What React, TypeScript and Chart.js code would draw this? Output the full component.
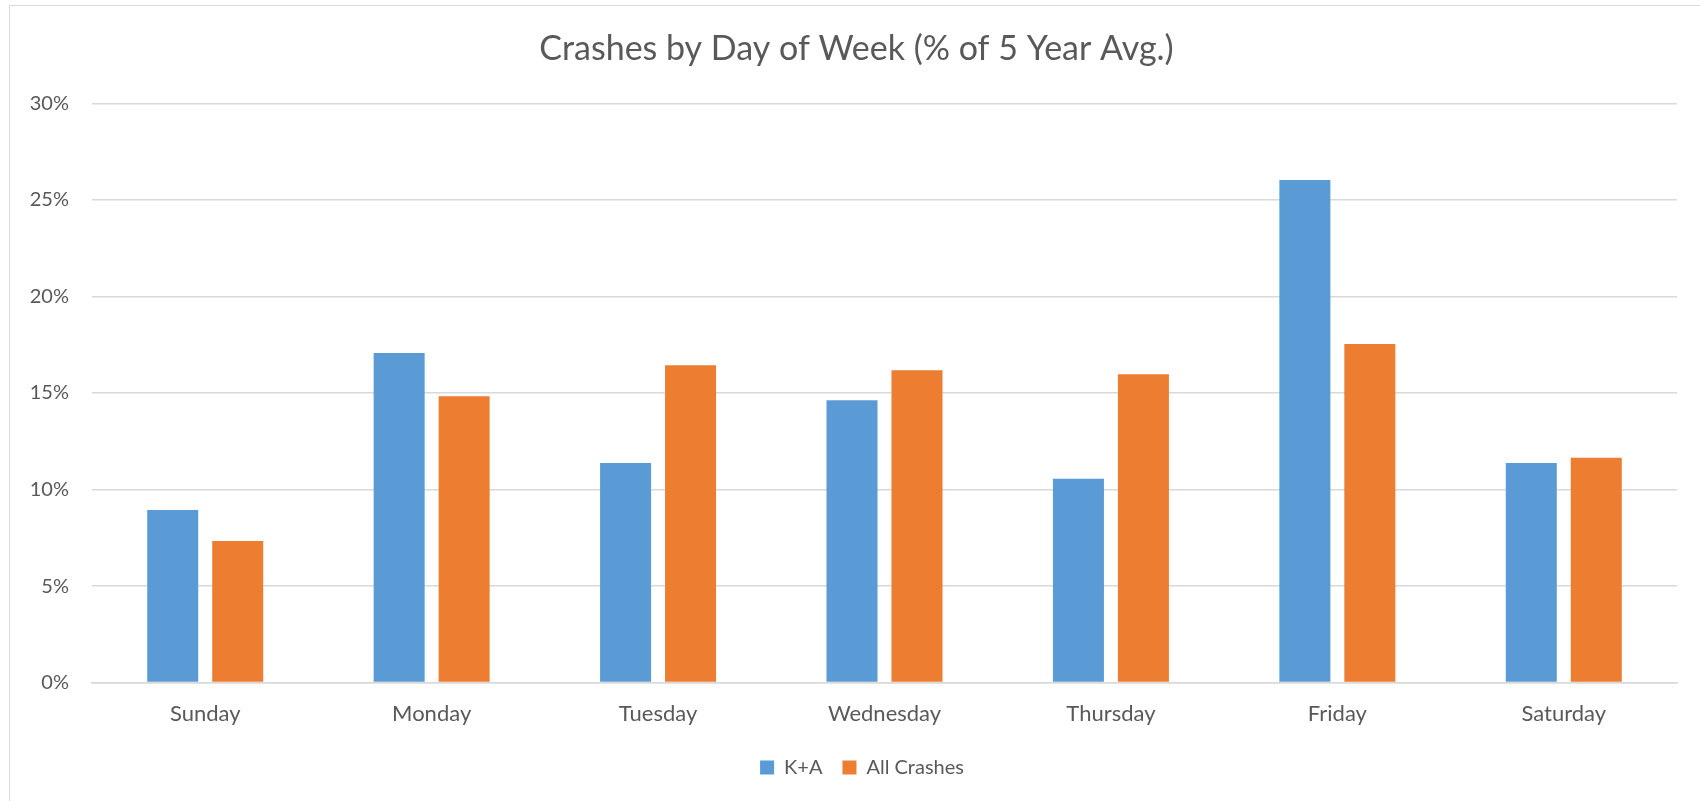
import React, { useEffect, useRef } from "react";
import { Chart, registerables } from "chart.js";

Chart.register(...registerables);

const categories = ["Sunday", "Monday", "Tuesday", "Wednesday", "Thursday", "Friday", "Saturday"];
const kaValues = [8.94, 17.07, 11.37, 14.62, 10.56, 26.03, 11.37];
const allCrashesValues = [7.33, 14.83, 16.44, 16.18, 15.97, 17.54, 11.65];
const seriesNames = ["K+A", "All Crashes"];
const yTicks = [0, 5, 10, 15, 20, 25, 30];
const titleText = "Crashes by Day of Week (% of 5 Year Avg.)";

const FONT = "Lato, 'Open Sans', sans-serif";
const TEXT = "#595959";
const GRID = "#d9d9d9";

const shiftPlugin = {
  id: "shiftBlocks",
  afterLayout(chart: any) {
    const t = chart.titleBlock;
    if (t) {
      t.left += 8;
      t.right += 8;
    }
    const l = chart.legend;
    if (l) {
      l.left += 13.5;
      l.right += 13.5;
      l.top -= 8.5;
      l.bottom -= 8.5;
    }
  },
};

export default function App() {
  const ref = useRef<HTMLCanvasElement | null>(null);

  useEffect(() => {
    if (!ref.current) return;
    const chart = new Chart(ref.current, {
      type: "bar",
      data: {
        labels: categories,
        datasets: [
          {
            label: seriesNames[0],
            data: kaValues,
            backgroundColor: "#5b9bd5",
            barPercentage: 0.785,
            categoryPercentage: 0.574,
          },
          {
            label: seriesNames[1],
            data: allCrashesValues,
            backgroundColor: "#ed7d31",
            barPercentage: 0.785,
            categoryPercentage: 0.574,
          },
        ],
      },
      plugins: [shiftPlugin],
      options: {
        animation: false,
        responsive: true,
        maintainAspectRatio: false,
        layout: { padding: { left: 20, right: 23, top: 0, bottom: 5 } },
        plugins: {
          title: {
            display: true,
            text: titleText,
            color: TEXT,
            font: { family: FONT, size: 34, weight: "normal" },
            padding: { top: 28.5, bottom: 34 },
          },
          legend: {
            display: true,
            position: "bottom",
            labels: {
              color: TEXT,
              font: { family: FONT, size: 20 },
              boxWidth: 14,
              boxHeight: 14,
              padding: 20,
            },
          },
          tooltip: { enabled: false },
        },
        scales: {
          x: {
            grid: { display: false, drawTicks: false },
            border: { display: true, color: GRID, width: 1.5 },
            ticks: {
              color: TEXT,
              font: { family: FONT, size: 22 },
              padding: 18.5,
            },
          },
          y: {
            min: 0,
            max: 30,
            afterFit: (scale: any) => {
              scale.width = 72;
            },
            afterBuildTicks: (scale: any) => {
              scale.ticks = yTicks.map((v) => ({ value: v }));
            },
            grid: { color: GRID, lineWidth: 1.5, drawTicks: false },
            border: { display: false },
            ticks: {
              color: TEXT,
              font: { family: FONT, size: 20 },
              padding: 23,
              callback: (v: any) => v + "%",
            },
          },
        },
      },
    });
    return () => chart.destroy();
  }, []);

  return (
    <div style={{ position: "absolute", left: 0, top: 0, width: 1700, height: 801, overflow: "hidden", background: "#fff" }}>
      <div
        style={{
          position: "absolute",
          left: 9,
          top: 5,
          width: 1760,
          height: 860,
          border: "1.5px solid #d9d9d9",
          boxSizing: "border-box",
        }}
      />
      <div style={{ position: "absolute", left: 0, top: 0, width: 1700, height: 801 }}>
        <canvas ref={ref} />
      </div>
    </div>
  );
}
